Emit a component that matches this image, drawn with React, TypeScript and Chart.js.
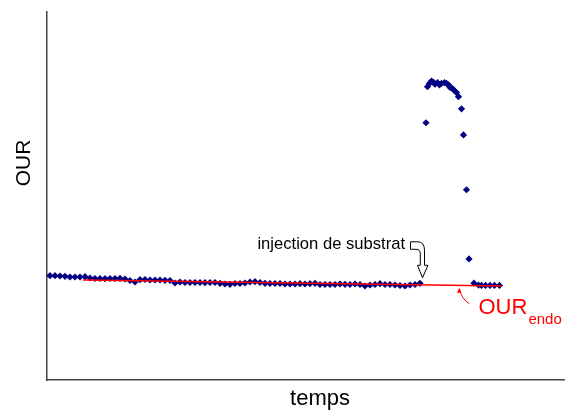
import React, { useEffect, useRef } from "react";
import { Chart, registerables } from "chart.js";

Chart.register(...registerables);

// time (arbitrary units) of the regular baseline samples before injection
const baseTimes = [
  0, 1, 2, 3, 4, 5, 6, 7, 8, 9, 10, 11, 12, 13, 14, 15, 16, 17, 18, 19,
  20, 21, 22, 23, 24, 25, 26, 27, 28, 29, 30, 31, 32, 33, 34, 35, 36, 37, 38, 39,
  40, 41, 42, 43, 44, 45, 46, 47, 48, 49, 50, 51, 52, 53, 54, 55, 56, 57, 58, 59,
  60, 61, 62, 63, 64, 65, 66, 67, 68, 69, 70, 71, 72, 73, 74,
];
const baseOUR = [
  28.34, 28.34, 28.26, 28.18, 27.99, 27.99, 27.99, 28.07, 27.72, 27.58,
  27.58, 27.53, 27.58, 27.58, 27.64, 27.45, 27.04, 26.63, 27.26, 27.31,
  27.17, 27.17, 27.17, 27.09, 27.04, 26.36, 26.63, 26.49, 26.49, 26.49,
  26.49, 26.44, 26.49, 26.49, 26.28, 26.09, 26.01, 26.22, 26.22, 26.36,
  26.63, 26.71, 26.49, 26.28, 26.22, 26.22, 26.22, 26.09, 26.09, 26.09,
  26.17, 26.09, 26.17, 26.28, 25.95, 25.95, 25.95, 25.95, 26.09, 26.01,
  25.95, 26.09, 25.95, 25.54, 25.82, 25.95, 26.17, 25.95, 25.95, 25.82,
  25.68, 25.54, 25.82, 25.95, 26.28,
];
// samples after substrate injection
const peakTimes = [
  75.2, 75.5, 75.9, 76.3, 76.7, 77.0, 77.5, 77.9, 78.3, 78.9, 79.3, 79.7, 80.0,
  80.5, 80.9, 81.3, 81.7, 82.3, 82.7, 83.3, 83.8, 84.8, 85.7, 86.3, 87.1, 88.0,
  88.9, 89.9,
];
const peakOUR = [
  69.9, 79.7, 80.6, 81.25, 80.9, 80.4, 80.8, 80.2, 80.6, 80.8, 80.6, 80.2, 79.5,
  79.2, 78.6, 78.1, 77.0, 73.7, 66.6, 51.7, 32.9, 26.3, 25.8, 25.7, 25.7, 25.7,
  25.7, 25.7,
];
// endogenous OUR trend line
const endoTimes = [6.6, 90.4];
const endoOUR = [27.17, 25.54];

const injectionIndex = 74;
const xLabel = "temps";
const yLabel = "OUR";
const injectionLabel = "injection de substrat";

const annotate = {
  id: "annotate",
  afterDraw(chart: any) {
    const { ctx, scales } = chart;
    const xs = scales.x;
    const ys = scales.y;
    ctx.save();
    // axis titles
    ctx.fillStyle = "#000";
    ctx.textAlign = "center";
    ctx.textBaseline = "middle";
    ctx.font = "22px 'Liberation Sans', Arial, sans-serif";
    ctx.fillText(xLabel, 320, 399);
    ctx.save();
    ctx.translate(24, 163);
    ctx.rotate(-Math.PI / 2);
    ctx.font = "21px 'Liberation Sans', Arial, sans-serif";
    ctx.fillText(yLabel, 0, 0);
    ctx.restore();

    // injection annotation
    const ax = xs.getPixelForValue(baseTimes[injectionIndex]);
    const ay = ys.getPixelForValue(baseOUR[injectionIndex]);
    const ox = ax + 2.5;
    const oy = ay - 5.5; // arrow tip
    ctx.beginPath();
    ctx.moveTo(ox - 12, oy - 36);
    ctx.lineTo(ox - 5, oy - 36);
    ctx.quadraticCurveTo(ox + 2, oy - 36, ox + 2, oy - 27.5);
    ctx.lineTo(ox + 2, oy - 12.5);
    ctx.lineTo(ox + 5.5, oy - 12.5);
    ctx.lineTo(ox, oy);
    ctx.lineTo(ox - 5, oy - 12.5);
    ctx.lineTo(ox - 2.2, oy - 12.5);
    ctx.lineTo(ox - 2.2, oy - 24);
    ctx.quadraticCurveTo(ox - 2.2, oy - 28.5, ox - 6.5, oy - 28.5);
    ctx.lineTo(ox - 12, oy - 28.5);
    ctx.closePath();
    ctx.fillStyle = "#fff";
    ctx.fill();
    ctx.strokeStyle = "#000";
    ctx.lineWidth = 1;
    ctx.stroke();
    ctx.fillStyle = "#000";
    ctx.textAlign = "right";
    ctx.textBaseline = "alphabetic";
    ctx.font = "16.6px 'Liberation Sans', Arial, sans-serif";
    ctx.fillText(injectionLabel, ox - 17.5, oy - 29);

    // OUR endo annotation
    const tT = 81.9;
    const frac = (tT - endoTimes[0]) / (endoTimes[1] - endoTimes[0]);
    const lv = endoOUR[0] + frac * (endoOUR[1] - endoOUR[0]);
    const tx = xs.getPixelForValue(tT);
    const ty = ys.getPixelForValue(lv) + 2.5;
    ctx.strokeStyle = "#ff0000";
    ctx.fillStyle = "#ff0000";
    ctx.lineWidth = 1;
    ctx.beginPath();
    ctx.moveTo(tx + 10, ty + 16);
    ctx.quadraticCurveTo(tx + 2, ty + 11, tx, ty + 1);
    ctx.stroke();
    ctx.beginPath();
    ctx.moveTo(tx - 0.3, ty);
    ctx.lineTo(tx - 2.5, ty + 5);
    ctx.lineTo(tx + 1.8, ty + 4.6);
    ctx.closePath();
    ctx.fill();
    ctx.textAlign = "left";
    ctx.textBaseline = "alphabetic";
    ctx.font = "22px 'Liberation Sans', Arial, sans-serif";
    const bx = tx + 19;
    const by = ty + 26.5;
    ctx.fillText("OUR", bx, by);
    const w = ctx.measureText("OUR").width;
    ctx.font = "15px 'Liberation Sans', Arial, sans-serif";
    ctx.fillText("endo", bx + w + 1, by + 10);
    ctx.restore();
  },
};

export default function App() {
  const ref = useRef<HTMLCanvasElement>(null);
  useEffect(() => {
    document.body.style.margin = "0";
    const canvas = ref.current;
    if (!canvas) return;
    const points = baseTimes
      .map((t, i) => ({ x: t, y: baseOUR[i] }))
      .concat(peakTimes.map((t, i) => ({ x: t, y: peakOUR[i] })));
    const chart = new Chart(canvas, {
      type: "scatter",
      data: {
        datasets: [
          {
            label: "OUR endo",
            data: endoTimes.map((t, i) => ({ x: t, y: endoOUR[i] })),
            showLine: true,
            borderColor: "#ff0000",
            borderWidth: 1.5,
            pointRadius: 0,
            fill: false,
          },
          {
            label: "OUR",
            data: points,
            showLine: false,
            pointStyle: "rectRot",
            pointRadius: 3.6,
            backgroundColor: "#000080",
            borderColor: "#000080",
            borderWidth: 0,
          },
        ],
      },
      options: {
        responsive: false,
        animation: false,
        devicePixelRatio: 1,
        layout: { autoPadding: false, padding: { left: 47, top: 12, right: 0, bottom: 32 } },
        plugins: {
          legend: { display: false },
          tooltip: { enabled: false },
          title: { display: false },
        },
        scales: {
          x: {
            type: "linear",
            min: -0.6,
            max: 103,
            ticks: { display: false },
            grid: { display: false, drawTicks: false },
            border: { display: true, color: "#444", width: 1.5 },
            title: { display: false },
          },
          y: {
            type: "linear",
            min: 0,
            max: 100,
            ticks: { display: false },
            grid: { display: false, drawTicks: false },
            border: { display: true, color: "#444", width: 1.5 },
            title: { display: false },
          },
        },
      },
      plugins: [annotate],
    });
    return () => chart.destroy();
  }, []);
  return <canvas ref={ref} width={565} height={412} style={{ display: "block" }} />;
}
